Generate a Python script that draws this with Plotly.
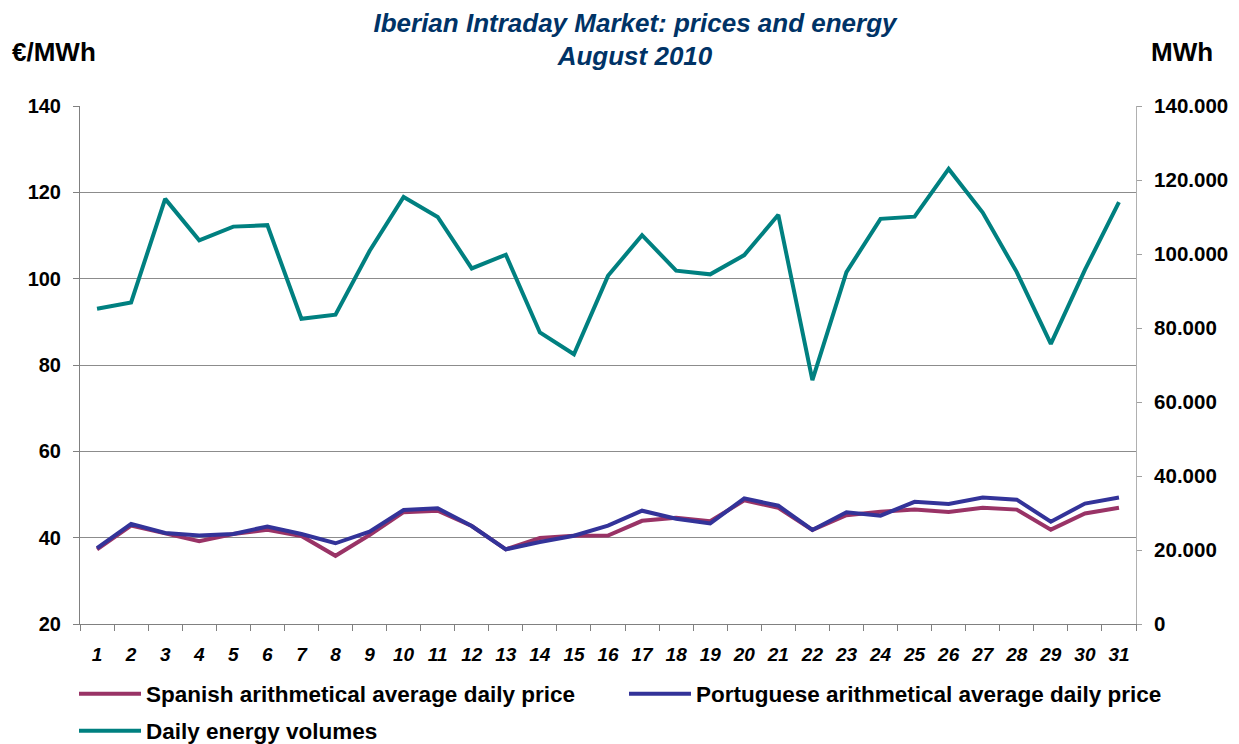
import plotly.graph_objects as go

days = [str(d) for d in range(1, 32)]

spanish_price = [37.3, 42.8, 41.0, 39.2, 40.85, 41.85, 40.4, 35.8, 40.6, 45.9, 46.25,
                 42.7, 37.3, 39.9, 40.45, 40.5, 43.9, 44.6, 43.8, 48.65, 46.9,
                 41.8, 45.2, 46.0, 46.5, 45.95, 46.95, 46.5, 41.85, 45.6, 46.95]

portuguese_price = [37.6, 43.2, 41.1, 40.5, 40.85, 42.6, 40.85, 38.7, 41.4, 46.4, 46.8,
                    42.7, 37.3, 39.0, 40.45, 42.8, 46.25, 44.4, 43.3, 49.1, 47.4,
                    41.8, 45.9, 45.1, 48.3, 47.8, 49.3, 48.8, 43.7, 47.9, 49.3]

energy_mwh = [85200, 86900, 114900, 103700, 107400, 107800, 82500, 83600, 100800, 115400, 110000,
              96100, 99800, 78800, 72900, 94100, 105100, 95500, 94500, 99700, 110600,
              65900, 95100, 109500, 110100, 123000, 111200, 95100, 75700, 95700, 114000]

FONT = "Liberation Sans, Arial, sans-serif"
SPAIN_C = "#993366"
PORT_C = "#333399"
ENERGY_C = "#008080"

fig = go.Figure()
fig.add_trace(go.Scatter(x=days, y=spanish_price, mode="lines", name="Spanish arithmetical average daily price",
                         line=dict(color=SPAIN_C, width=4), legend="legend"))
fig.add_trace(go.Scatter(x=days, y=portuguese_price, mode="lines", name="Portuguese arithmetical average daily price",
                         line=dict(color=PORT_C, width=4), legend="legend"))
fig.add_trace(go.Scatter(x=days, y=energy_mwh, mode="lines", name="Daily energy volumes",
                         line=dict(color=ENERGY_C, width=4), yaxis="y2", legend="legend2"))

# page body has an 8px margin: figure is sized/positioned to compensate
OFF = 8
W, H = 1239 - OFF, 744 - OFF
L, T = 80 - OFF, 106 - OFF
PW, PH = 1056, 518
fig.update_layout(
    width=W, height=H,
    margin=dict(l=L, r=W - L - PW, t=T, b=H - T - PH, autoexpand=False),
    paper_bgcolor="white", plot_bgcolor="white",
    separators=",.",
    font=dict(family=FONT, color="black"),
    title=dict(text="Iberian Intraday Market: prices and energy<br>August 2010",
               x=(635 - OFF) / W, xanchor="center", xref="container",
               y=1 - 23.5 / H, yanchor="middle", yref="container",
               font=dict(family=FONT, size=26, color="#003366", weight="bold", style="italic")),
    xaxis=dict(type="category", range=[-0.5, 30.5], showline=True, linecolor="#808080", linewidth=1,
               ticks="outside", ticklen=6, tickcolor="#808080", tickson="boundaries",
               showgrid=False, ticklabelstandoff=13, automargin=False,
               tickfont=dict(family=FONT, size=19, weight="bold", style="italic", color="black")),
    yaxis=dict(range=[20, 140], dtick=20, showline=True, linecolor="#808080", linewidth=1,
               ticks="outside", ticklen=6, tickcolor="#808080",
               showgrid=True, gridcolor="#8c8c8c", gridwidth=1, zeroline=False,
               ticklabelstandoff=8, automargin=False,
               tickfont=dict(family=FONT, size=20, weight="bold", color="black")),
    yaxis2=dict(range=[0, 140000], dtick=20000, overlaying="y", side="right",
                showline=True, linecolor="#b0b0b0", linewidth=1,
                ticks="outside", ticklen=5, tickcolor="#a0a0a0", tickformat=",d",
                showgrid=False, zeroline=False, ticklabelstandoff=8, automargin=False,
                tickfont=dict(family=FONT, size=20.5, weight="bold", color="black")),
    legend=dict(orientation="h", x=-6 / PW, xanchor="left", y=-(694 - 624) / PH, yanchor="middle",
                entrywidth=473, entrywidthmode="pixels", itemwidth=62,
                font=dict(family=FONT, size=22.5, weight="bold", color="black"),
                bgcolor="rgba(0,0,0,0)"),
    legend2=dict(orientation="h", x=-6 / PW, xanchor="left", y=-(731 - 624) / PH, yanchor="middle",
                 itemwidth=62,
                 font=dict(family=FONT, size=22.5, weight="bold", color="black"),
                 bgcolor="rgba(0,0,0,0)"),
    showlegend=True,
    annotations=[
        dict(text="€/MWh", xref="paper", yref="paper", x=(10 - 80) / PW, xanchor="left",
             y=1 + (106 - 52) / PH, yanchor="middle", showarrow=False,
             font=dict(family=FONT, size=26, weight="bold", color="black")),
        dict(text="MWh", xref="paper", yref="paper", x=(1215 - 80) / PW, xanchor="right",
             y=1 + (106 - 52) / PH, yanchor="middle", showarrow=False,
             font=dict(family=FONT, size=26, weight="bold", color="black")),
    ],
)

fig.write_html("out.html")
